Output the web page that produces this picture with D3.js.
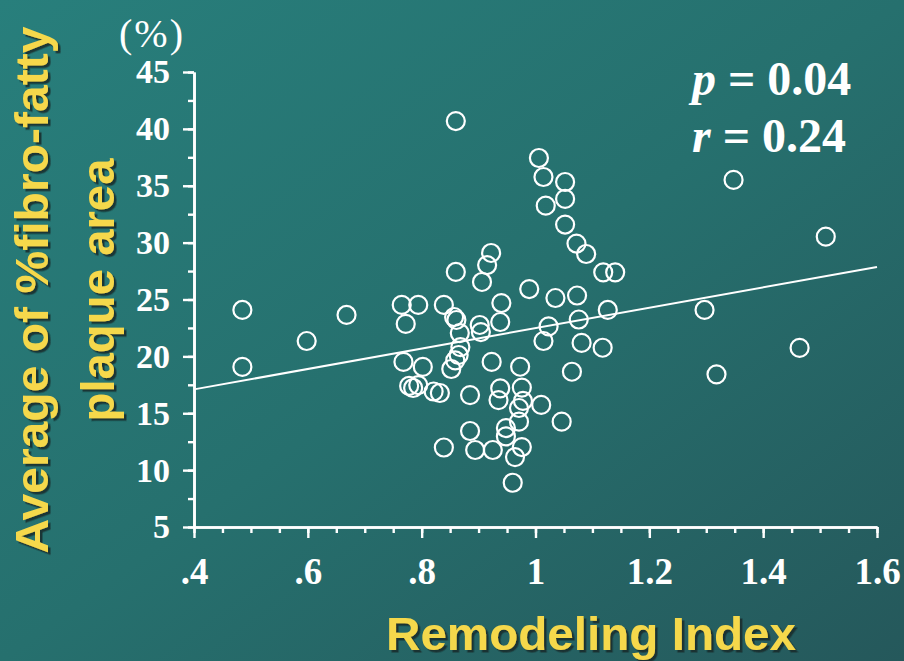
<!DOCTYPE html>
<html>
<head>
<meta charset="utf-8">
<script src="https://cdn.jsdelivr.net/npm/d3@7"></script>
<style>
  html, body { margin: 0; padding: 0; background: #26706e; }
  svg { display: block; }
</style>
</head>
<body>
<svg id="chart" width="904" height="661"></svg>
<script>
// Remodeling index (x) and average % fibro-fatty plaque area (y), one entry per lesion
const remodelingIndex = [
  0.485, 0.485, 0.598, 0.668, 0.765, 0.794, 0.772, 0.839, 0.857, 0.861,
  0.867, 0.868, 0.865, 0.859, 0.852, 0.768, 0.802, 0.778, 0.785, 0.794,
  0.821, 0.832, 0.885, 0.860, 0.860, 0.906, 0.915, 0.922, 0.902, 0.904,
  0.923, 0.940, 0.938, 0.989, 1.035, 1.073, 1.023, 1.076, 1.127, 1.014,
  1.081, 1.118, 1.064, 0.973, 0.938, 0.976, 0.935, 0.978, 0.971, 1.010,
  0.971, 1.046, 0.948, 0.948, 0.976, 0.925, 0.894, 0.839, 0.885, 0.964,
  0.960, 1.006, 1.014, 1.052, 1.052, 1.018, 1.052, 1.072, 1.089, 1.119,
  1.140, 1.348, 1.510, 1.297, 1.464, 1.318
];
const fibroFattyPct = [
  24.08, 19.07, 21.35, 23.64, 24.52, 24.52, 22.85, 24.52, 23.46, 23.20,
  22.05, 20.82, 20.12, 19.64, 18.89, 19.51, 19.07, 17.40, 17.22, 17.48,
  16.91, 16.78, 16.60, 40.69, 27.42, 26.54, 28.03, 29.09, 22.76, 22.14,
  19.51, 24.69, 23.02, 25.92, 25.13, 25.35, 22.63, 23.24, 24.08, 21.35,
  21.18, 20.76, 18.65, 19.09, 17.19, 17.26, 16.16, 16.08, 15.46, 15.73,
  14.26, 14.26, 13.70, 12.96, 12.03, 11.77, 11.77, 11.99, 13.44, 11.15,
  8.89, 37.44, 35.77, 35.33, 33.84, 33.25, 31.59, 29.92, 29.00, 27.39,
  27.39, 35.51, 30.52, 24.08, 20.74, 18.42
];

// Axis ticks
const xTicks = [0.4, 0.6, 0.8, 1.0, 1.2, 1.4, 1.6];
const xTickLabels = [".4", ".6", ".8", "1", "1.2", "1.4", "1.6"];
const xMinorTicks = [0.4, 0.45, 0.5, 0.55, 0.6, 0.65, 0.7, 0.75, 0.8, 0.85, 0.9, 0.95,
                     1.0, 1.05, 1.1, 1.15, 1.2, 1.25, 1.3, 1.35, 1.4, 1.45, 1.5, 1.55, 1.6];
const yTicks = [5, 10, 15, 20, 25, 30, 35, 40, 45];
const yMinorTicks = [5, 7.5, 10, 12.5, 15, 17.5, 20, 22.5, 25, 27.5, 30, 32.5, 35, 37.5, 40, 42.5, 45];

// Least-squares fit and statistics
const fitIntercept = 13.51;
const fitSlope = 8.97;
const statSymbols = ["p", "r"];
const statValues = ["0.04", "0.24"];

const W = 904, H = 661;
const svg = d3.select("#chart");

// Background gradient and title shadow
const defs = svg.append("defs");
const grad = defs.append("linearGradient")
  .attr("id", "bg").attr("x1", "0").attr("y1", "0").attr("x2", "1").attr("y2", "1");
grad.append("stop").attr("offset", "0%").attr("stop-color", "#287f7c");
grad.append("stop").attr("offset", "50%").attr("stop-color", "#26706e");
grad.append("stop").attr("offset", "100%").attr("stop-color", "#25585b");
defs.append("filter").attr("id", "shadow")
  .attr("x", "-10%").attr("y", "-10%").attr("width", "120%").attr("height", "130%")
  .append("feDropShadow")
  .attr("dx", 2.5).attr("dy", 2.5).attr("stdDeviation", 0.4)
  .attr("flood-color", "#132b2b").attr("flood-opacity", 0.85);
svg.append("rect").attr("width", W).attr("height", H).attr("fill", "url(#bg)");

const x = d3.scaleLinear().domain([0.4, 1.6]).range([194, 877]);
const y = d3.scaleLinear().domain([5, 45]).range([527, 72]);

const serif = "'Liberation Serif', 'Times New Roman', serif";
const sans = "'Liberation Sans', Arial, sans-serif";

function styleAxis(g) {
  g.select(".domain").attr("stroke", "#ffffff").attr("stroke-width", 2.6);
  g.selectAll(".tick line").attr("stroke", "#ffffff").attr("stroke-width", 2.4);
  g.selectAll(".tick text").attr("fill", "#ffffff");
}

// Minor ticks
svg.append("g").attr("transform", `translate(${x(0.4)},0)`)
  .call(d3.axisLeft(y).tickValues(yMinorTicks).tickSize(6).tickSizeOuter(0).tickFormat(""))
  .call(styleAxis);
svg.append("g").attr("transform", `translate(0,${y(5)})`)
  .call(d3.axisBottom(x).tickValues(xMinorTicks).tickSize(6).tickSizeOuter(0).tickFormat(""))
  .call(styleAxis);

// Major ticks with labels
const yAxisG = svg.append("g").attr("transform", `translate(${x(0.4)},0)`)
  .call(d3.axisLeft(y).tickValues(yTicks).tickSize(11).tickSizeOuter(0).tickPadding(13))
  .call(styleAxis);
yAxisG.selectAll(".tick text")
  .attr("font-family", serif).attr("font-weight", "bold").attr("font-size", 34);

const xAxisG = svg.append("g").attr("transform", `translate(0,${y(5)})`)
  .call(d3.axisBottom(x).tickValues(xTicks).tickSize(11).tickSizeOuter(0).tickPadding(20)
    .tickFormat((d, i) => xTickLabels[i]))
  .call(styleAxis);
xAxisG.selectAll(".tick text")
  .attr("font-family", serif).attr("font-weight", "bold").attr("font-size", 37);

// Unit label
svg.append("text")
  .attr("x", 152).attr("y", 47)
  .attr("text-anchor", "middle")
  .attr("font-family", serif).attr("font-size", 40).attr("fill", "#ffffff")
  .attr("letter-spacing", 2)
  .text("(%)");

// Regression line
const line = d3.line().x(d => x(d)).y(d => y(fitIntercept + fitSlope * d));
svg.append("path")
  .datum([0.4, 1.6])
  .attr("d", line)
  .attr("fill", "none").attr("stroke", "#ffffff").attr("stroke-width", 2);

// Data points
svg.append("g").selectAll("circle")
  .data(remodelingIndex.map((v, i) => [v, fibroFattyPct[i]]))
  .join("circle")
  .attr("cx", d => x(d[0]))
  .attr("cy", d => y(d[1]))
  .attr("r", 9)
  .attr("fill", "none")
  .attr("stroke", "#ffffff")
  .attr("stroke-width", 2.2);

// Statistics
const statG = svg.append("g");
statSymbols.forEach((s, i) => {
  const t = statG.append("text")
    .attr("x", 692).attr("y", 95 + i * 57)
    .attr("font-family", serif).attr("font-weight", "bold").attr("font-size", 48)
    .attr("fill", "#ffffff");
  t.append("tspan").attr("font-style", "italic").text(s);
  t.append("tspan").text(" = " + statValues[i]);
});

// Axis titles
const titleYellow = "#f5d84c";
const titles = svg.append("g").attr("filter", "url(#shadow)").attr("fill", titleYellow)
  .attr("font-family", sans).attr("font-weight", "bold").attr("font-size", 46);
titles.append("text")
  .attr("x", 591).attr("y", 650)
  .attr("text-anchor", "middle")
  .attr("textLength", 410).attr("lengthAdjust", "spacingAndGlyphs")
  .text("Remodeling Index");
const yTitleLines = [
  { text: "Average of %fibro-fatty", bx: 48, len: 527 },
  { text: "plaque area", bx: 114, len: 263 }
];
yTitleLines.forEach(l => {
  titles.append("text")
    .attr("transform", `translate(${l.bx},290) rotate(-90)`)
    .attr("text-anchor", "middle")
    .attr("textLength", l.len).attr("lengthAdjust", "spacingAndGlyphs")
    .text(l.text);
});
</script>
</body>
</html>
